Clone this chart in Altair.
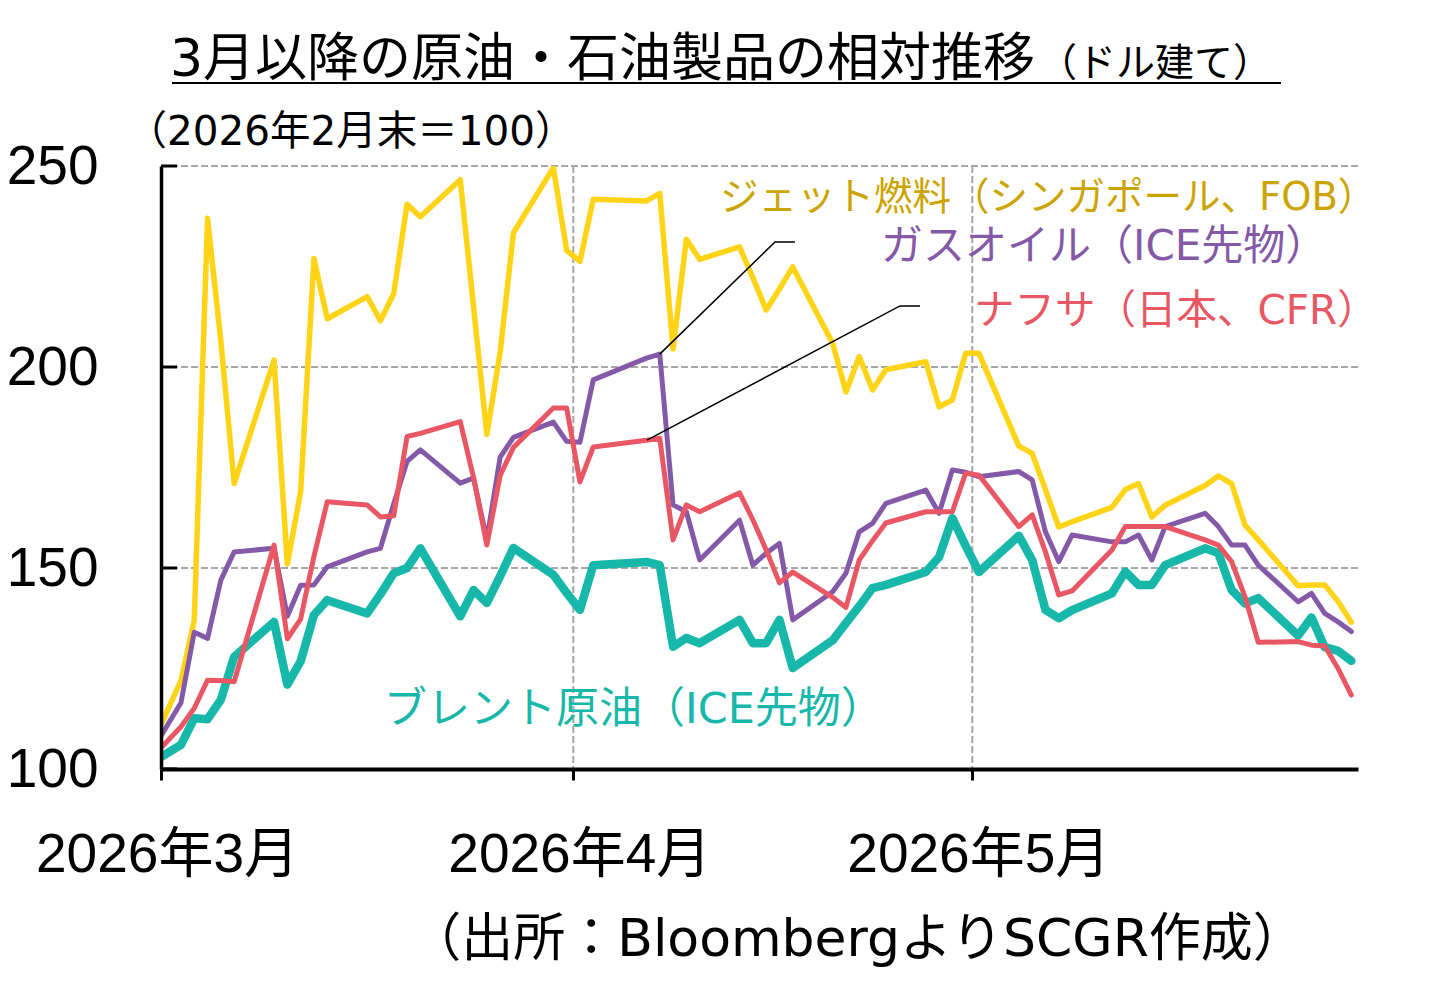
import altair as alt
import pandas as pd

# Trading days (Feb 27 is the base day = 100; Good Friday has no print)
dates = [
    "2026-02-27",
    "2026-03-02", "2026-03-03", "2026-03-04", "2026-03-05", "2026-03-06",
    "2026-03-09", "2026-03-10", "2026-03-11", "2026-03-12", "2026-03-13",
    "2026-03-16", "2026-03-17", "2026-03-18", "2026-03-19", "2026-03-20",
    "2026-03-23", "2026-03-24", "2026-03-25", "2026-03-26", "2026-03-27",
    "2026-03-30", "2026-03-31",
    "2026-04-01", "2026-04-02",
    "2026-04-06", "2026-04-07", "2026-04-08", "2026-04-09", "2026-04-10",
    "2026-04-13", "2026-04-14", "2026-04-15", "2026-04-16", "2026-04-17",
    "2026-04-20", "2026-04-21", "2026-04-22", "2026-04-23", "2026-04-24",
    "2026-04-27", "2026-04-28", "2026-04-29", "2026-04-30",
    "2026-05-01",
    "2026-05-04", "2026-05-05", "2026-05-06", "2026-05-07", "2026-05-08",
    "2026-05-11", "2026-05-12", "2026-05-13", "2026-05-14", "2026-05-15",
    "2026-05-18", "2026-05-19", "2026-05-20", "2026-05-21", "2026-05-22",
    "2026-05-25", "2026-05-26", "2026-05-27", "2026-05-28", "2026-05-29",
]

jet_fuel = [
    100.0,
    122.0, 137.0, 237.0, 206.5, 171.0,
    201.7, 151.0, 169.0, 227.0, 212.0,
    217.5, 211.5, 218.3, 240.5, 237.4,
    246.6, 215.0, 183.2, 203.7, 233.4,
    249.6, 229.0,
    226.3, 241.7,
    241.3, 243.2, 204.5, 231.8, 226.8,
    229.9, 222.2, 214.2, 219.4, 224.9,
    205.9, 193.8, 202.6, 194.3, 199.3,
    201.3, 190.1, 191.8, 203.4,
    203.4,
    180.3, 178.5, 169.5, 160.2, 161.5,
    165.1, 169.5, 171.0, 162.7, 165.6,
    170.5, 172.9, 171.0, 160.7, 157.0,
    145.6, 145.8, 145.8, 141.7, 136.5,
]

gasoil = [
    100.0,
    116.5, 134.0, 132.5, 147.0, 154.0,
    154.9, 138.0, 145.7, 145.8, 150.3,
    154.0, 154.9, 166.0, 176.5, 179.4,
    171.1, 172.4, 157.0, 177.6, 182.5,
    186.3, 181.5,
    181.3, 196.8,
    202.2, 203.2, 165.7, 164.0, 152.0,
    161.9, 150.7, 153.7, 156.1, 137.1,
    144.1, 148.7, 159.0, 161.1, 166.1,
    169.4, 163.6, 174.4, 173.8,
    172.7,
    174.0, 171.9, 159.0, 151.6, 158.2,
    156.5, 156.5, 158.2, 152.0, 160.3,
    163.6, 160.3, 155.7, 155.7, 150.7,
    141.6, 143.7, 138.7, 136.6, 134.2,
]

naphtha = [
    100.0,
    110.5, 115.1, 122.1, 122.0, 121.7,
    155.7, 132.4, 137.3, 152.9, 166.5,
    165.7, 162.7, 163.0, 182.7, 183.5,
    186.4, 172.5, 155.7, 173.0, 180.0,
    189.8, 189.8,
    171.4, 180.1,
    181.8, 182.3, 157.0, 165.7, 164.0,
    168.7, 162.0, 154.5, 146.3, 149.0,
    142.7, 140.2, 152.0, 156.8, 161.2,
    164.0, 164.0, 164.0, 173.6,
    173.1,
    160.3, 163.2, 154.0, 143.3, 144.3,
    154.5, 160.3, 160.3, 160.3, 160.3,
    157.0, 155.7, 151.6, 142.9, 131.5,
    131.7, 130.8, 130.6, 125.0, 118.4,
]

brent = [
    100.0,
    106.0, 112.6, 112.4, 117.2, 127.9,
    136.6, 121.0, 126.8, 138.3, 142.0,
    138.7, 143.5, 148.7, 150.0, 154.9,
    138.0, 144.5, 141.3, 148.0, 155.0,
    148.3, 143.8,
    139.6, 150.7,
    151.5, 150.7, 130.4, 132.6, 131.3,
    137.1, 131.3, 131.3, 137.1, 125.1,
    132.0, 136.3, 140.5, 145.0, 145.8,
    149.0, 152.7, 162.4, 155.5,
    149.0,
    158.0, 152.0, 139.6, 137.5, 139.5,
    143.7, 149.1, 145.8, 145.8, 150.7,
    154.9, 153.7, 144.5, 141.2, 142.5,
    133.2, 137.7, 130.3, 129.4, 126.9,
]

y_ticks = [100, 150, 200, 250]
y_grid = [150, 200, 250]
month_starts = ["2026-04-01T00:00:00", "2026-05-01T00:00:00"]

# callout leaders: from a point on the line up to the label
leader_id = ["gas", "gas", "gas", "nap", "nap", "nap"]
leader_date = [
    "2026-04-07T12:00:00", "2026-04-16T04:00:00", "2026-04-17T16:00:00",
    "2026-04-06T13:00:00", "2026-04-25T13:30:00", "2026-04-27T01:40:00",
]
leader_value = [203.2, 231.1, 231.1, 181.8, 215.2, 215.2]

JP = "DejaVu Sans, Noto Sans CJK JP"
NUM = "Liberation Sans, Noto Sans CJK JP"

C_JET, C_JET_TXT = "#FFD316", "#CCA400"
C_GAS = "#8459A8"
C_NAP = "#E85763"
C_BRT = "#17B7A9"

rows = []
for name, vals in [("brent", brent), ("jet", jet_fuel), ("gas", gasoil), ("nap", naphtha)]:
    for d, v in zip(dates, vals):
        rows.append({"date": d + "T12:00:00", "value": v, "series": name})
df = pd.DataFrame(rows)

XS = alt.Scale(domain=[alt.DateTime(year=2026, month=3, date=1),
                       alt.DateTime(year=2026, month=5, date=30)])
YS = alt.Scale(domain=[100, 250], nice=False, zero=False)

XA = alt.Axis(
    values=[alt.DateTime(year=2026, month=m, date=1) for m in (3, 4, 5)],
    format="%Y年%-m月", title=None, grid=False,
    labelFont=NUM, labelFontSize=55, labelColor="black", labelPadding=48,
    labelOffset=6, labelFlush=False, labelOverlap=False, labelLimit=0,
    tickSize=11, tickWidth=3, tickColor="black",
    domainColor="black", domainWidth=4, zindex=1,
)
YA = alt.Axis(
    values=y_ticks, title=None, grid=False, ticks=False,
    labelFont=NUM, labelFontSize=55, labelColor="black", labelPadding=63,
    labelOverlap=False, labelLimit=0,
    domainColor="black", domainWidth=3.5, zindex=1,
)

X = alt.X("date:T", scale=XS, axis=XA)
Y = alt.Y("value:Q", scale=YS, axis=YA)

GRID = dict(color="#A6A6A6", strokeWidth=2, strokeDash=[7, 3])

hgrid = alt.Chart(pd.DataFrame({"value": y_grid})).mark_rule(**GRID).encode(y=Y)
vgrid = alt.Chart(pd.DataFrame({"date": month_starts})).mark_rule(**GRID).encode(x=X)


def series_line(name, color, width):
    return (
        alt.Chart(df)
        .transform_filter(alt.datum.series == name)
        .mark_line(color=color, strokeWidth=width, clip=True,
                   strokeJoin="round", strokeCap="round")
        .encode(x=X, y=Y)
    )


leaders = (
    alt.Chart(pd.DataFrame({"date": leader_date, "value": leader_value, "leader": leader_id}))
    .mark_line(color="black", strokeWidth=1.5)
    .encode(x=X, y=Y, detail="leader:N")
)

# short inward tick marks on the value axis
y_inner_ticks = (
    alt.Chart(pd.DataFrame({"value": y_ticks}))
    .mark_rule(color="black", strokeWidth=3)
    .encode(y=Y, x=alt.value(0), x2=alt.value(16))
)

ONE = alt.Data(values=[{}])


def text(t, x, y, size, color="black", align="left", baseline="middle", font=JP):
    return (
        alt.Chart(ONE)
        .mark_text(text=t, align=align, baseline=baseline, fontSize=size,
                   color=color, font=font)
        .encode(x=alt.value(x), y=alt.value(y))
    )


title_main = text("3月以降の原油・石油製品の相対推移", 9, -90, 52, baseline="alphabetic")
title_sub = text("（ドル建て）", 877, -90, 39, baseline="alphabetic")
title_rule = (
    alt.Chart(ONE).mark_rule(color="black", strokeWidth=2)
    .encode(x=alt.value(11), x2=alt.value(1120), y=alt.value(-83))
)
base_note = text("（2026年2月末＝100）", 190, -33, 40.5, align="center")
source = text("（出所：BloombergよりSCGR作成）", 696, 774, 52, align="center")

lbl_jet = text("ジェット燃料（シンガポール、FOB）", 559, 32, 38.5, C_JET_TXT)
lbl_gas = text("ガスオイル（ICE先物）", 720, 81, 42, C_GAS)
lbl_nap = text("ナフサ（日本、CFR）", 813, 146, 40.5, C_NAP)
lbl_brt = text("ブレント原油（ICE先物）", 223, 544, 43, C_BRT)

chart = alt.layer(
    hgrid, vgrid,
    series_line("brent", C_BRT, 8.5),
    series_line("jet", C_JET, 5.5),
    series_line("gas", C_GAS, 5),
    series_line("nap", C_NAP, 5),
    leaders, y_inner_ticks,
    title_main, title_sub, title_rule, base_note, source,
    lbl_jet, lbl_gas, lbl_nap, lbl_brt,
).properties(
    width=1197, height=603,
    padding={"left": 161, "top": 166, "right": 71, "bottom": 226},
    autosize=alt.AutoSizeParams(type="none"),
    background="white",
).configure_view(stroke=None)

chart.save("out.html", embed_options={"renderer": "svg", "actions": False})
